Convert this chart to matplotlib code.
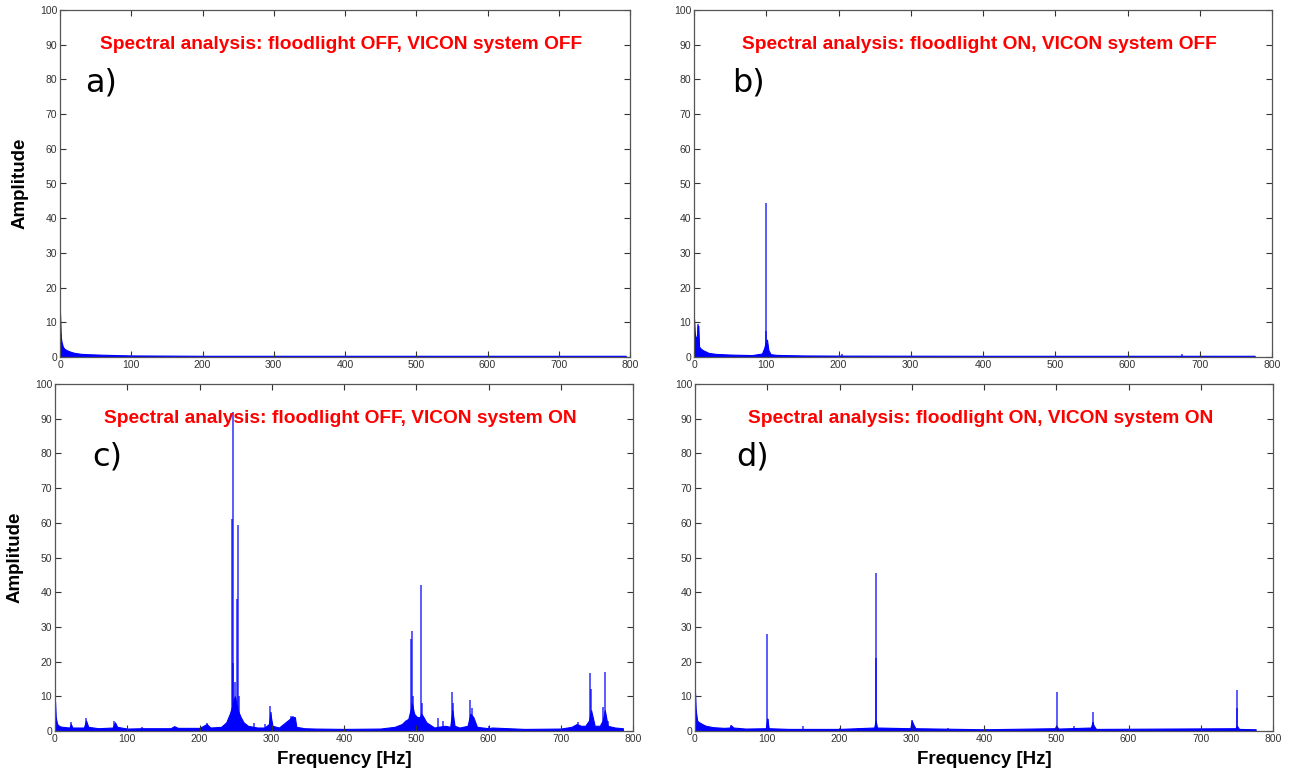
"""
Four-panel amplitude spectra (floodlight / VICON system on-off combinations).
"""

import matplotlib
matplotlib.use("Agg")
import matplotlib.pyplot as plt

plt.rcParams['font.family'] = ['Liberation Sans', 'DejaVu Sans']

# panel texts
titles = [
    "Spectral analysis: floodlight OFF, VICON system OFF",
    "Spectral analysis: floodlight ON, VICON system OFF",
    "Spectral analysis: floodlight OFF, VICON system ON",
    "Spectral analysis: floodlight ON, VICON system ON",
]
panel_tags = ["a)", "b)", "c)", "d)"]
x_ticks = [0, 100, 200, 300, 400, 500, 600, 700, 800]
y_ticks = [0, 10, 20, 30, 40, 50, 60, 70, 80, 90, 100]

# noise floor of each spectrum, (frequency Hz, amplitude)
floor_a = [(0, 12.5), (1, 6.0), (2, 4.5), (4, 3.0), (6, 2.4), (10, 1.9), (15, 1.5),
           (20, 1.2), (30, 0.9), (40, 0.8), (60, 0.65), (80, 0.55), (100, 0.45),
           (150, 0.4), (200, 0.35), (500, 0.35), (794, 0.35)]

floor_b = [(0, 11), (1, 7), (2, 5.5), (4, 6), (5, 9), (6, 9), (7, 3), (9, 2.5),
           (12, 2.0), (20, 1.2), (30, 0.9), (50, 0.7), (80, 0.55), (94, 1.0),
           (97, 2.5), (99, 4), (101, 5), (103, 2), (106, 0.8), (115, 0.6),
           (150, 0.45), (200, 0.4), (400, 0.35), (776, 0.35)]

floor_c = [(0, 8.5), (1, 4), (3, 2.0), (6, 1.4), (10, 1.2), (20, 1.0), (22, 2.0),
           (24, 1.0), (40, 1.0), (43, 3.0), (46, 1.2), (60, 0.8), (80, 1.0),
           (83, 2.5), (86, 1.2), (100, 0.7), (120, 0.8), (160, 0.8), (165, 1.4),
           (170, 0.9), (200, 0.9), (210, 2.0), (215, 1.0), (230, 1.2), (237, 2.5),
           (242, 5), (245, 7), (247, 9), (249, 10), (251, 8), (253, 6), (255, 5),
           (257, 4), (261, 2.5), (267, 1.5), (280, 1.0), (290, 1.0), (296, 2),
           (298, 5), (301, 1.5), (310, 1.0), (325, 3.5), (327, 4.0), (332, 4.0),
           (334, 1.2), (345, 0.8), (360, 0.7), (400, 0.6), (450, 0.7), (470, 1.2),
           (480, 2.0), (485, 3.0), (489, 3.5), (492, 6), (494, 8), (497, 5),
           (501, 4), (505, 4), (507, 5), (510, 4), (514, 2.5), (525, 1.0),
           (530, 1.2), (540, 1.5), (547, 1.2), (550, 6), (553, 1.5), (560, 1.0),
           (571, 1.5), (575, 5), (579, 4), (584, 1.2), (600, 0.8), (605, 1.0),
           (650, 0.6), (700, 0.7), (715, 1.2), (722, 2.0), (728, 1.5), (734, 1.5),
           (739, 3), (742, 6), (747, 1.5), (754, 1.5), (758, 3), (761, 6),
           (765, 1.5), (775, 1.0), (786, 0.8)]

floor_d = [(0, 11), (1, 6), (3, 3), (5, 2.6), (10, 2.0), (15, 1.5), (25, 1.1),
           (40, 0.9), (48, 1.0), (50, 1.6), (53, 1.0), (70, 0.7), (98, 0.8),
           (100, 3.6), (102, 0.8), (130, 0.6), (200, 0.6), (248, 1.0), (250, 3.0),
           (252, 1.0), (298, 0.8), (300, 3), (302, 2), (305, 0.8), (400, 0.5),
           (498, 0.8), (500, 1.5), (503, 0.7), (548, 1), (550, 2.5), (552, 1.5),
           (555, 0.6), (748, 0.8), (750, 1.5), (753, 0.6), (776, 0.5)]

# narrow spectral lines, (frequency Hz, peak amplitude)
spikes_a = [(0, 12.5), (1, 6.5)]

spikes_b = [(0, 11), (5, 9.5), (99, 7.5), (100, 44.5), (205, 1.0), (675, 0.8)]

spikes_c = [(0, 9), (22, 2.5), (43, 3.8), (82, 2.8), (120, 1.2), (210, 2.2),
            (245, 61), (246, 92), (247, 19.5), (249, 14), (251.5, 38),
            (253.5, 59.5), (255, 10), (275, 2.2), (290, 2), (297, 7.3),
            (298.5, 5.5), (326, 4.3), (330, 4.4), (492.5, 26.5), (494, 28.7),
            (496, 10), (507, 42), (508.5, 8), (530, 3.7), (537, 3), (549.5, 11.3),
            (551, 8), (575, 9), (577, 6.7), (600, 1.5), (724, 2.5), (741, 16.7),
            (742.5, 12), (759, 7), (761, 17), (766, 3)]

spikes_d = [(0, 11), (2, 6), (50, 1.6), (100, 28), (100.5, 3.6), (150, 1.5),
            (200, 1.0), (225, 1.0), (250, 45.5), (250.5, 21), (275, 0.8),
            (300, 3.2), (350, 0.9), (500.5, 11.1), (525, 1.5), (550.5, 5.5),
            (551.5, 2.6), (675, 0.6), (725, 0.6), (750.5, 11.8), (750, 6.5)]

floors = [floor_a, floor_b, floor_c, floor_d]
spikes = [spikes_a, spikes_b, spikes_c, spikes_d]

# axes rectangles in pixels (left, top, right, bottom)
W, H = 1290, 773
boxes_px = [(60, 10, 630, 357), (694, 10, 1272, 357),
            (55, 384, 633, 731), (695, 384, 1273, 731)]
tag_x = [35, 53, 51, 57]

fig = plt.figure(figsize=(W / 100, H / 100), dpi=100)

for i in range(4):
    x0, y0, x1, y1 = boxes_px[i]
    ax = fig.add_axes([x0 / W, 1 - y1 / H, (x1 - x0) / W, (y1 - y0) / H])

    f, a = zip(*floors[i])
    ax.fill_between(f, 0, a, color='blue', lw=0.8)
    sf, sa = zip(*spikes[i])
    ax.vlines(sf, 0, sa, color='blue', lw=1.2, alpha=0.75)

    ax.set_xlim(0, 800)
    ax.set_ylim(0, 100)
    ax.set_xticks(x_ticks)
    ax.set_yticks(y_ticks)
    ax.tick_params(direction='in', top=True, right=True, length=4,
                   width=0.8, colors='#333333', labelsize=7.5, pad=2)
    for sp in ax.spines.values():
        sp.set_color('#555555')
        sp.set_linewidth(0.9)

    ax.text(395, 90, titles[i], color='red', fontsize=13.8, fontweight='bold',
            ha='center', va='center')
    ax.text(tag_x[i], 79, panel_tags[i], fontsize=23, family='DejaVu Sans',
            ha='left', va='center')

    if i % 2 == 0:
        ax.set_ylabel("Amplitude", fontsize=13.5, fontweight='bold', labelpad=8)
    if i >= 2:
        ax.set_xlabel("Frequency [Hz]", fontsize=13.5, fontweight='bold', labelpad=5)

fig.savefig("out.png", dpi=100)
